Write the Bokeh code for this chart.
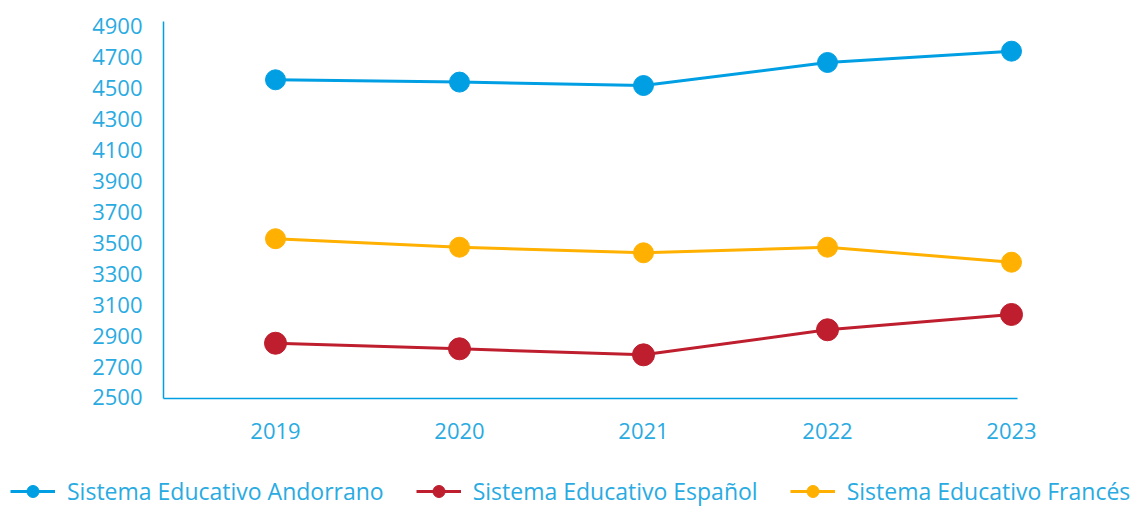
from bokeh.plotting import figure
from bokeh.models import Legend, LegendItem, FixedTicker, Range1d
from bokeh.layouts import column, row
from bokeh.embed import file_html
from bokeh.resources import INLINE

years = [2019, 2020, 2021, 2022, 2023]
andorrano = [4555, 4540, 4518, 4667, 4740]
espanol = [2851, 2815, 2776, 2938, 3037]
frances = [3527, 3472, 3436, 3472, 3375]
y_ticks = list(range(2500, 5000, 200))

names = ["Sistema Educativo Andorrano", "Sistema Educativo Español", "Sistema Educativo Francés"]
colors = ["#009FE3", "#BE1E2D", "#FFB000"]
sizes = [20, 22, 20]
series = [andorrano, espanol, frances]

TEXT = "#29ABE2"
AXIS = "#009FE3"
FONT = "Open Sans"

X0, X1, XAX = 2018.3913, 2023.1304, 2023.0326

p = figure(frame_width=872, frame_height=377, output_backend="svg", toolbar_location=None,
           x_range=Range1d(X0, X1), y_range=Range1d(2493.5, 4932),
           min_border_left=163, min_border_right=105, min_border_top=21, min_border_bottom=60)
p.outline_line_color = None
p.grid.grid_line_color = None
p.background_fill_color = "white"
p.border_fill_color = "white"

for ax in (p.xaxis[0], p.yaxis[0]):
    ax.axis_line_color = AXIS
    ax.axis_line_width = 1.5
    ax.major_tick_line_color = None
    ax.minor_tick_line_color = None
    ax.major_label_text_color = TEXT
    ax.major_label_text_font = FONT
    ax.major_label_text_font_size = "22px"

p.xaxis.ticker = FixedTicker(ticks=years)
p.xaxis.bounds = (X0, XAX)
p.yaxis.ticker = FixedTicker(ticks=y_ticks)
p.xaxis.major_label_standoff = 18
p.yaxis.major_label_standoff = 15

for vals, c, s in zip(series, colors, sizes):
    p.line(years, vals, line_color=c, line_width=3)
    p.scatter(years, vals, size=s, fill_color=c, line_color=c)

# legend strip below the chart
p2 = figure(width=1140, height=51, output_backend="svg", toolbar_location=None,
            x_range=Range1d(0, 1), y_range=Range1d(0, 1), min_border=0)
p2.axis.visible = False
p2.grid.grid_line_color = None
p2.outline_line_color = None

items = []
for name, vals, c, s in zip(names, series, colors, sizes):
    l = p2.line(years, vals, line_color=c, line_width=3)
    m = p2.scatter(years, vals, size=s, fill_color=c, line_color=c)
    items.append(LegendItem(label=name, renderers=[l, m]))

legend = Legend(items=items, orientation="horizontal", location=(10, 2))
legend.label_text_font = FONT
legend.label_text_font_size = "23px"
legend.label_text_color = TEXT
legend.glyph_width = 45
legend.glyph_height = 30
legend.label_standoff = 12
legend.spacing = 32
legend.padding = 0
legend.margin = 0
legend.border_line_color = None
legend.background_fill_alpha = 0
p2.add_layout(legend, "center")

open("out.html", "w").write(file_html(column(p, row(p2), spacing=0), INLINE))
